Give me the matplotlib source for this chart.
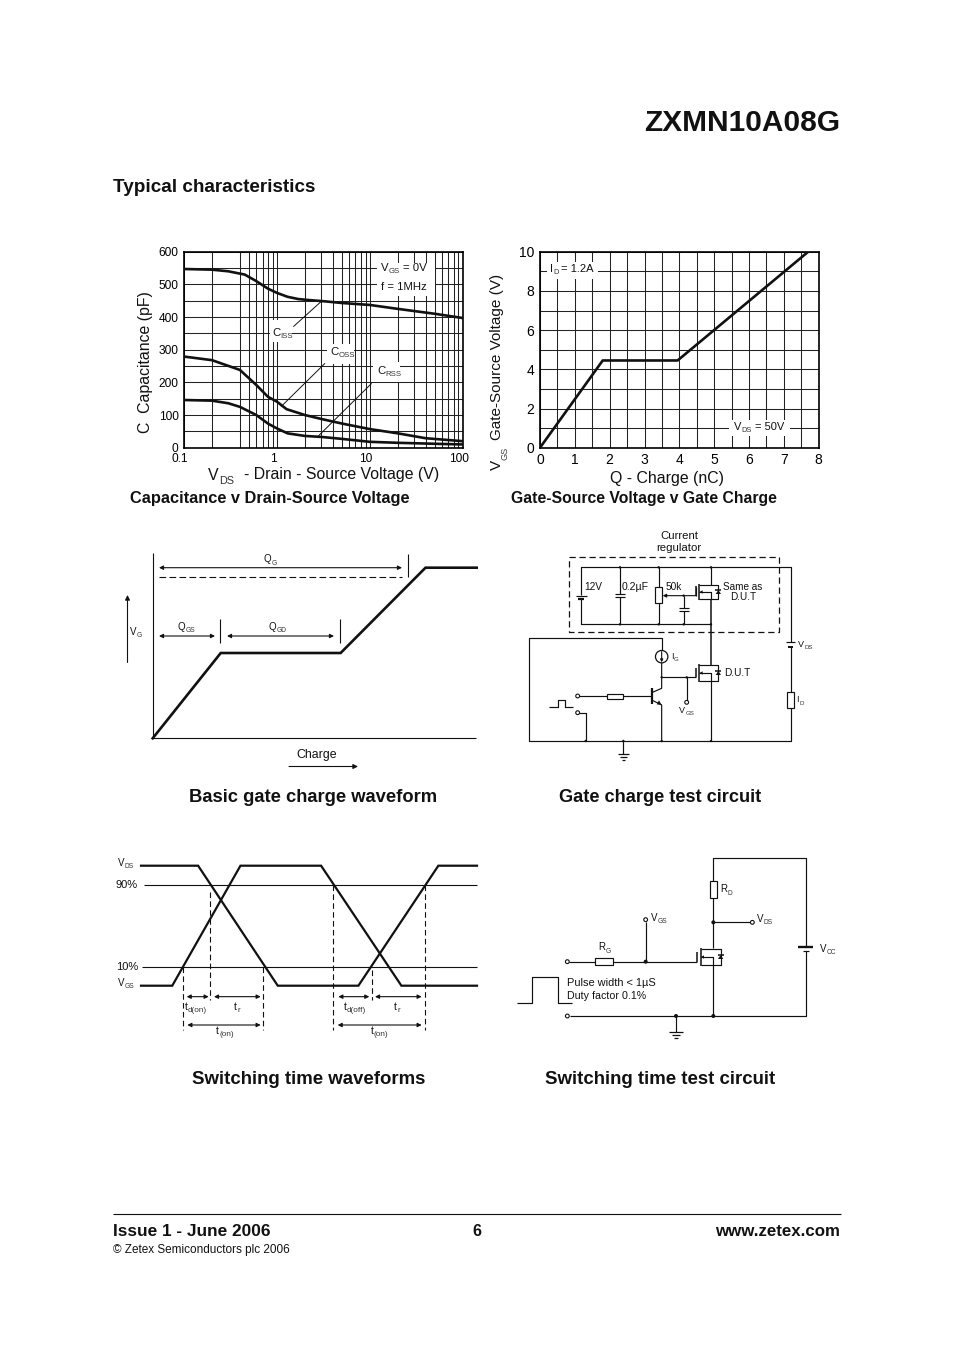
#!/usr/bin/env python3
"""Datasheet page with capacitance / gate charge plots, waveforms and test circuits."""

import matplotlib
matplotlib.use("Agg")
import matplotlib.pyplot as plt
from matplotlib.patches import Circle, Polygon, Rectangle
from matplotlib.ticker import NullFormatter
from matplotlib.transforms import ScaledTranslation

plt.rcParams["font.family"] = ["Liberation Sans", "DejaVu Sans"]

# capacitance v drain-source voltage, pF
ciss_v = [0.1, 0.2, 0.3, 0.45, 0.6, 0.8, 1.0, 1.3, 1.7, 2.2, 3.3, 5, 10, 20, 50, 100]
ciss_c = [547, 545, 540, 530, 510, 487, 474, 462, 455, 452, 448, 443, 437, 425, 410, 397]
coss_v = [0.1, 0.2, 0.4, 0.6, 0.8, 1.0, 1.27, 2, 3, 5, 10, 20, 40, 100]
coss_c = [279, 268, 238, 192, 156, 141, 118, 100, 88, 74, 57, 44, 29, 20]
crss_v = [0.1, 0.2, 0.3, 0.4, 0.6, 0.8, 1, 1.3, 2, 3, 5, 10, 20, 50, 100]
crss_c = [146, 144, 136, 125, 100, 74, 59, 44, 36, 33, 27, 18, 15, 12, 10]
cap_grid_x = [0.2, 0.4, 0.5, 0.6, 0.7, 0.8, 0.9, 2, 3, 4, 5, 6, 7, 8, 9,
              20, 30, 40, 50, 60, 70, 80, 90]
cap_xticks = [0.1, 1, 10, 100]
cap_xlabels = ["0.1", "1", "10", "100"]
cap_yticks = [0, 100, 200, 300, 400, 500, 600]

# gate-source voltage v gate charge
vgs_q = [0, 1.8, 3.95, 7.7]
vgs_v = [0, 4.45, 4.45, 10]

# basic gate charge waveform, percent of the panel
wave_q = [0, 21, 58, 84.2, 100]
wave_v = [0, 50, 50, 100, 100]

# switching waveforms, time as percent of the panel, level in percent
vds_t = [0, 17, 40.7, 64.7, 88.5, 100]
vds_l = [109.3, 109.3, -8.7, -8.7, 109.3, 109.3]
vgs_t = [0, 9.3, 29.6, 53.6, 77.5, 100]
vgs_l = [-8.7, -8.7, 109.3, 109.3, -8.7, -8.7]

fig = plt.figure(figsize=(9.54, 13.51), dpi=100)
W, H = 954.0, 1351.0


def panel(left, top, right, bottom, **kw):
    return fig.add_axes([left / W, 1 - bottom / H, (right - left) / W, (bottom - top) / H], **kw)


page = fig.add_axes([0, 0, 1, 1], zorder=10)
page.set_xlim(0, W)
page.set_ylim(H, 0)
page.axis("off")
page.patch.set_alpha(0)


def txt(x, y, s, size=7.5, weight="normal", ha="left", **kw):
    return page.text(x, y, s, fontsize=size, fontweight=weight, ha=ha, va="center", color="#111111", **kw)


def sub_txt(x, y, main, sub, tail=None, size=7.0, gap=2.0, subscale=0.68):
    t = txt(x, y, main, size)
    s = page.annotate(sub, xy=(1, 0), xycoords=t, xytext=(0.2, 0.8), textcoords="offset points",
                      fontsize=size * subscale, color="#333333", va="center")
    if tail:
        page.annotate(tail, xy=(1, 0.5), xycoords=(s, t), xytext=(gap, 0), textcoords="offset points",
                      fontsize=size, color="#111111", va="center")
    return t


def white(x0, y0, x1, y1):
    page.add_patch(Rectangle((x0, y0), x1 - x0, y1 - y0, fc="white", ec="none", zorder=0.5))


def arrow(x0, y0, x1, y1, style="-|>", scale=6):
    page.annotate("", xy=(x1, y1), xytext=(x0, y0),
                  arrowprops=dict(arrowstyle=style, color="#111111", lw=0.8, shrinkA=0, shrinkB=0,
                                  mutation_scale=scale))


def line(xs, ys, lw=0.8, color="#111111", **kw):
    page.plot(xs, ys, lw=lw, color=color, solid_capstyle="butt", **kw)


def shift_xlabels(ax, px):
    for lab in ax.get_xticklabels():
        lab.set_transform(lab.get_transform() + ScaledTranslation(px / 100, 0, fig.dpi_scale_trans))


def capacitance_plot():
    ax = panel(184, 251.7, 462.7, 447.7)
    ax.set_xscale("log")
    ax.set_xlim(0.1, 100)
    ax.set_ylim(0, 600)
    ax.set_xticks(cap_xticks)
    ax.set_xticklabels(cap_xlabels)
    ax.set_xticks(cap_grid_x, minor=True)
    ax.xaxis.set_minor_formatter(NullFormatter())
    ax.set_yticks(cap_yticks)
    ax.set_yticks(range(0, 601, 50), minor=True)
    ax.grid(which="both", color="#222222", lw=0.75)
    ax.tick_params(which="both", length=0)
    ax.tick_params(axis="both", labelsize=8.6, pad=4)
    shift_xlabels(ax, -4)
    for s in ax.spines.values():
        s.set_linewidth(1.2)
    for xs, ys in [(ciss_v, ciss_c), (coss_v, coss_c), (crss_v, crss_c)]:
        ax.plot(xs, ys, color="#111111", lw=1.9, zorder=3)

    # zoom crop coords for the leader lines
    for a, b, c, d in [(520, 275, 603, 200), (483, 515, 615, 385), (595, 603, 755, 445)]:
        line([120 + a / 3, 120 + c / 3], [235 + b / 3, 235 + d / 3], lw=0.7)
    white(270, 320, 292, 342)
    white(327, 344, 354, 364)
    white(373, 362, 400, 382)
    white(377, 263, 435, 296)
    sub_txt(272, 333, "C", "ISS", size=8.2)
    sub_txt(330, 352, "C", "OSS", size=8.2)
    sub_txt(377, 371, "C", "RSS", size=8.2)
    sub_txt(381, 268, "V", "GS", "= 0V", size=8.2, gap=2.2)
    txt(381, 287, "f = 1MHz", 8.2)
    txt(146, 362, "C  Capacitance (pF)", 11.4, ha="center", rotation=90)
    sub_txt(208, 475, "V", "DS", "- Drain - Source Voltage (V)", size=11.4, gap=7)
    txt(130, 498, "Capacitance v Drain-Source Voltage", 11.8, "bold")


def gate_charge_plot():
    ax = panel(540, 251.7, 818.7, 447.7)
    ax.set_xlim(0, 8)
    ax.set_ylim(0, 10)
    ax.set_xticks(range(0, 9))
    ax.set_yticks(range(0, 11, 2))
    ax.set_xticks([i + 0.5 for i in range(8)], minor=True)
    ax.set_yticks([i for i in range(1, 10, 2)], minor=True)
    ax.grid(which="both", color="#222222", lw=0.75)
    ax.tick_params(which="both", length=0)
    ax.tick_params(axis="both", labelsize=10, pad=4)
    for s in ax.spines.values():
        s.set_linewidth(1.2)
    ax.plot(vgs_q, vgs_v, color="#111111", lw=1.9, zorder=3)

    white(547, 262, 598, 279)
    white(729, 420, 790, 436)
    sub_txt(550, 269, "I", "D", "= 1.2A", size=8.0)
    sub_txt(734, 427, "V", "DS", "= 50V", size=8.0)
    txt(497, 356.5, "Gate-Source Voltage (V)", 11, ha="center", rotation=90)
    txt(497, 465, "V", 11, ha="center", rotation=90)
    txt(505, 453, "GS", 6.6, ha="center", rotation=90, alpha=0.8)
    txt(667, 478, "Q - Charge (nC)", 11.4, ha="center")
    txt(511, 499, "Gate-Source Voltage v Gate Charge", 11.3, "bold")


def charge_waveform():
    ax = panel(152.7, 567.7, 476.7, 738.3)
    ax.axis("off")
    ax.set_xlim(0, 100)
    ax.set_ylim(0, 100)
    ax.plot(wave_q, wave_v, color="#111111", lw=1.9, clip_on=False, solid_joinstyle="miter")

    line([152.7, 152.7], [553, 738.3])
    line([152.7, 476], [738.3, 738.3])
    arrow(159, 567.7, 402, 567.7, "<|-|>")
    line([159, 402], [577.3, 577.3], lw=0.8, linestyle=(0, (6, 3)))
    line([408.5, 408.5], [554, 577.3])
    sub_txt(264, 559.5, "Q", "G", size=7.0)
    arrow(159, 636, 215, 636, "<|-|>")
    line([220.5, 220.5], [618.5, 642.5])
    sub_txt(177.5, 626.5, "Q", "GS", size=7.0)
    arrow(227, 636, 334, 636, "<|-|>")
    line([340, 340], [618.5, 643])
    sub_txt(269, 626.5, "Q", "GD", size=7.0)
    arrow(127.5, 662.5, 127.5, 595, scale=7)
    sub_txt(130, 632, "V", "G", size=7.0)
    txt(317, 755, "Charge", 8.9, ha="center")
    arrow(289, 766.5, 358, 766.5, scale=7)
    txt(313, 798, "Basic gate charge waveform", 13.2, "bold", ha="center")


def switching_waveforms():
    ax = panel(141, 865.7, 477, 985.7)
    ax.axis("off")
    ax.set_xlim(0, 100)
    ax.set_ylim(-8.7, 109.3)
    ax.plot(vds_t, vds_l, color="#111111", lw=1.6, clip_on=False, solid_joinstyle="miter")
    ax.plot(vgs_t, vgs_l, color="#111111", lw=1.6, clip_on=False, solid_joinstyle="miter")

    line([144, 477], [885.3, 885.3])
    line([141.7, 477], [966.7, 966.7])
    ox, oy = 110, 850
    for zx, y0, y1 in [(220, 350, 540), (300, 125, 450), (460, 350, 540),
                       (670, 106, 540), (787, 360, 450), (946, 106, 540)]:
        line([ox + zx / 3] * 2, [oy + y0 / 3, oy + y1 / 3], lw=0.8, linestyle=(0, (5, 3)))
    for z0, z1, zy in [(230, 296, 440), (312, 452, 440), (232, 452, 525),
                       (685, 778, 440), (795, 935, 440), (683, 935, 525)]:
        arrow(ox + z0 / 3, oy + zy / 3, ox + z1 / 3, oy + zy / 3, "<|-|>")
    sub_txt(118, 863, "V", "DS", size=7.0)
    txt(116, 885, "90%", 8.0)
    txt(116.5, 967, "10%", 8.0)
    sub_txt(118, 982.5, "V", "GS", size=7.0)
    sub_txt(184.5, 1006.5, "t", "d(on)", size=7.5, subscale=0.78)
    sub_txt(234, 1006.5, "t", "r", size=7.5, subscale=0.78)
    sub_txt(216, 1031, "t", "(on)", size=7.5, subscale=0.78)
    sub_txt(343.5, 1006.5, "t", "d(off)", size=7.5, subscale=0.78)
    sub_txt(394, 1006.5, "t", "r", size=7.5, subscale=0.78)
    sub_txt(370.5, 1031, "t", "(on)", size=7.5, subscale=0.78)
    txt(309, 1080, "Switching time waveforms", 13.4, "bold", ha="center")


# the two circuits are laid out on the 3x crop grid, o is the crop origin
def wire(o, pts, lw=0.85, color="#111111"):
    line([o[0] + p[0] / 3 for p in pts], [o[1] + p[1] / 3 for p in pts], lw=lw, color=color)


def dots(o, pts, r=1.5):
    for x, y in pts:
        page.add_patch(Circle((o[0] + x / 3, o[1] + y / 3), r, fc="#111111", ec="none", zorder=4))


def ring(o, x, y, r=1.9):
    page.add_patch(Circle((o[0] + x / 3, o[1] + y / 3), r, fc="white", ec="#111111", lw=0.8, zorder=4))


def box(o, x0, y0, x1, y1):
    page.add_patch(Rectangle((o[0] + x0 / 3, o[1] + y0 / 3), (x1 - x0) / 3, (y1 - y0) / 3,
                             fc="white", ec="#111111", lw=0.85, zorder=3))


def tri(o, pts):
    page.add_patch(Polygon([(o[0] + x / 3, o[1] + y / 3) for x, y in pts], fc="#111111", ec="none", zorder=4))


def mosfet(o, xc, yd, ys, xg, y0, y1):
    # xc is the drain/source wire, yd and ys the two rails
    wire(o, [(xg + 10, yd), (xc + 22, yd), (xc + 22, ys), (xg + 10, ys)])
    wire(o, [(xg + 10, yd - 4), (xg + 10, ys + 4)], lw=1.1)
    wire(o, [(xg, y0), (xg, y1)], lw=1.1)
    ym = (yd + ys) / 2
    wire(o, [(xg + 10, ym), (xc, ym), (xc, ys)])
    tri(o, [(xg + 10, ym), (xg + 20, ym - 5), (xg + 20, ym + 5)])
    xd = xc + 22
    tri(o, [(xd - 8, ym + 6), (xd + 8, ym + 6), (xd, ym - 6)])
    wire(o, [(xd - 9, ym - 6), (xd + 9, ym - 6)], lw=1.1)


def ground(o, x, y, w0=16, gap=8):
    for i, hw in enumerate([w0, w0 * 0.6, w0 * 0.25]):
        wire(o, [(x - hw, y + i * gap), (x + hw, y + i * gap)], lw=0.9)


def gate_charge_circuit():
    o = (510, 525)
    line([569.3, 778.7, 778.7, 569.3, 569.3], [557.3, 557.3, 631.7, 631.7, 557.3],
         lw=0.9, linestyle=(0, (5, 3)))
    wire(o, [(214, 210), (214, 127), (842, 127), (842, 352)])
    wire(o, [(842, 365), (842, 648), (58, 648), (58, 340), (455, 340), (455, 376)])
    wire(o, [(214, 222), (214, 298), (603, 298)])
    wire(o, [(198, 212), (230, 212)])
    wire(o, [(205, 222), (222, 222)], lw=1.6)
    wire(o, [(330, 127), (330, 207)])
    wire(o, [(315, 207), (345, 207)])
    wire(o, [(315, 215), (345, 215)])
    wire(o, [(330, 215), (330, 298)])
    wire(o, [(446, 127), (446, 298)])
    box(o, 436, 185, 456, 235)
    arrow(510 + 558 / 3, 525 + 212 / 3, 510 + 458 / 3, 525 + 212 / 3, scale=5)
    wire(o, [(558, 212), (558, 185)])
    wire(o, [(521, 212), (521, 250)])
    wire(o, [(507, 250), (536, 250)])
    wire(o, [(507, 257), (536, 257)])
    wire(o, [(521, 257), (521, 298)])
    wire(o, [(603, 127), (603, 180)])
    mosfet(o, 603, 180, 222, 558, 183, 212)
    wire(o, [(603, 222), (603, 420)], lw=1.1)
    mosfet(o, 603, 420, 468, 558, 428, 457)
    wire(o, [(603, 468), (603, 648)])
    page.add_patch(Circle((510 + 455 / 3, 525 + 395 / 3), 6.2, fc="white", ec="#111111", lw=0.9, zorder=3))
    arrow(510 + 455 / 3, 525 + 380 / 3, 510 + 455 / 3, 525 + 412 / 3, scale=4)
    wire(o, [(455, 413), (455, 490), (425, 503)])
    wire(o, [(455, 457), (558, 457)])
    wire(o, [(530, 457), (530, 527)])
    ring(o, 530, 532)
    wire(o, [(425, 490), (425, 538)], lw=1.6)
    wire(o, [(208, 514), (425, 514)])
    box(o, 290, 506, 338, 523)
    wire(o, [(425, 525), (455, 540), (455, 648)])
    tri(o, [(455, 540), (440, 538), (447, 526)])
    ring(o, 203, 513)
    ring(o, 203, 563)
    wire(o, [(208, 563), (227, 563), (227, 648)])
    wire(o, [(118, 545), (143, 545), (143, 525), (165, 525), (165, 545), (190, 545)])
    wire(o, [(828, 352), (856, 352)])
    wire(o, [(835, 365), (850, 365)], lw=1.4)
    box(o, 832, 500, 852, 550)
    wire(o, [(340, 648), (340, 688)])
    ground(o, 340, 688)
    dots(o, [(227, 648), (340, 648), (455, 648), (603, 648), (455, 457), (530, 457), (603, 298),
             (603, 127), (446, 127), (330, 127), (446, 298), (521, 298), (330, 298), (521, 212)], r=1.2)
    txt(679, 536, "Current", 8.2, ha="center")
    txt(679, 548, "regulator", 8.2, ha="center")
    txt(584.5, 587.5, "12V", 7.3)
    txt(622, 587.5, "0.2\u00b5F", 7.6)
    txt(666, 587, "50k", 7.3)
    txt(743, 587.5, "Same as", 7.2, ha="center")
    txt(743, 596.5, "D.U.T", 7.2, ha="center")
    txt(724, 673.5, "D.U.T", 7.3)
    sub_txt(671, 656.5, "I", "G", size=6.5)
    sub_txt(798, 644.5, "V", "DS", size=6.5)
    sub_txt(796.5, 700, "I", "D", size=6.5)
    sub_txt(679, 710.5, "V", "GS", size=6.5)
    txt(660, 798, "Gate charge test circuit", 13.1, "bold", ha="center")


def switching_circuit():
    o = (510, 850)
    wire(o, [(610, 295), (610, 25), (888, 25), (888, 290)])
    wire(o, [(888, 303), (888, 498), (180, 498)])
    wire(o, [(865, 290), (910, 290)], lw=1.7)
    wire(o, [(878, 303), (898, 303)])
    ring(o, 172, 498)
    wire(o, [(498, 498), (498, 547)])
    ground(o, 498, 547, w0=20)
    box(o, 600, 93, 622, 145)
    wire(o, [(610, 217), (720, 217)])
    ring(o, 727, 217)
    mosfet(o, 610, 297, 345, 562, 305, 335)
    wire(o, [(610, 345), (610, 498)])
    wire(o, [(178, 335), (562, 335)])
    box(o, 256, 325, 308, 345)
    ring(o, 172, 335)
    wire(o, [(407, 335), (407, 216)])
    ring(o, 407, 209)
    wire(o, [(22, 458), (65, 458), (65, 380), (143, 380), (143, 458), (185, 458)])
    dots(o, [(498, 498), (610, 498), (610, 217), (407, 335)], r=2.0)
    sub_txt(598, 947.5, "R", "G", size=7.0)
    sub_txt(720, 889.5, "R", "D", size=7.0)
    sub_txt(651, 918, "V", "GS", size=7.0)
    sub_txt(757, 919, "V", "DS", size=7.0)
    sub_txt(820, 948.5, "V", "CC", size=7.0)
    txt(567.5, 983.5, "Pulse width < 1\u00b5S", 7.9)
    txt(567.5, 996, "Duty factor 0.1%", 7.7)
    txt(660, 1080, "Switching time test circuit", 13.4, "bold", ha="center")


def page_text():
    txt(840, 123, "ZXMN10A08G", 21.5, "bold", ha="right")
    txt(113, 188, "Typical characteristics", 13.6, "bold")
    line([113, 841], [1214, 1214], lw=0.8)
    txt(113, 1232, "Issue 1 - June 2006", 12.4, "bold")
    txt(477, 1232, "6", 11.5, "bold", ha="center")
    txt(840, 1232, "www.zetex.com", 12.2, "bold", ha="right")
    txt(113, 1249.5, "\u00a9 Zetex Semiconductors plc 2006", 8.5)


capacitance_plot()
gate_charge_plot()
charge_waveform()
switching_waveforms()
gate_charge_circuit()
switching_circuit()
page_text()

fig.savefig("out.png", dpi=100, facecolor="white")
